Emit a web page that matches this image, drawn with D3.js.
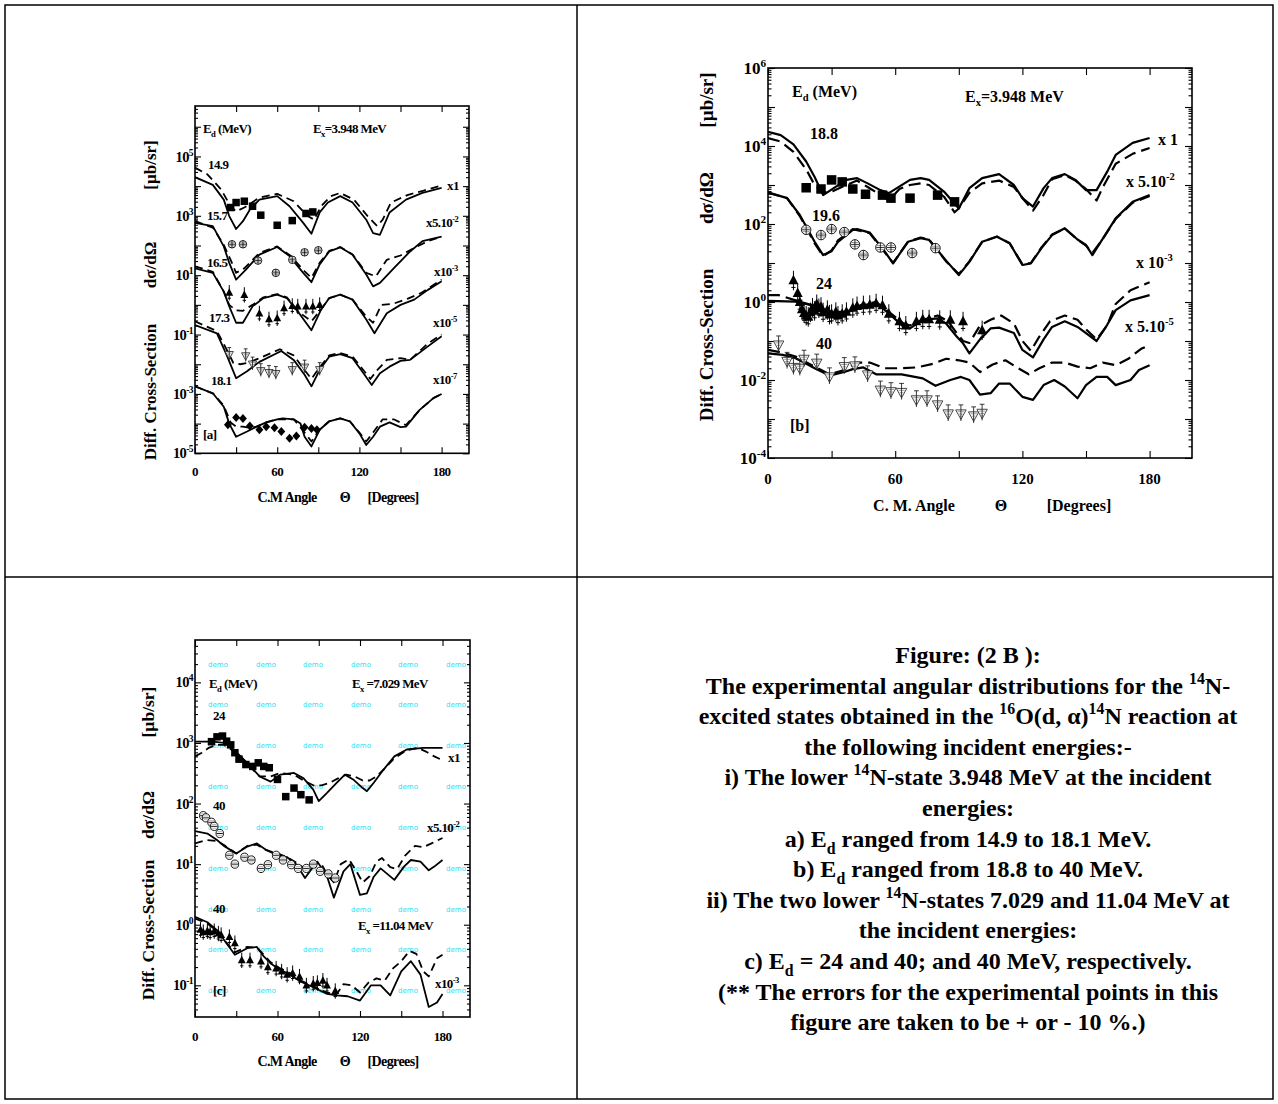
<!DOCTYPE html>
<html>
<head>
<meta charset="utf-8">
<script src="https://cdn.jsdelivr.net/npm/d3@7"></script>
<style>
  body { margin: 0; background: #fff; }
  svg text { font-family: "Liberation Serif", "Times New Roman", serif; font-weight: bold; fill: #000; }
</style>
</head>
<body>
<svg id="fig" width="1278" height="1104"></svg>
<script>
// ---- axis ticks ----
const xTicks = [0, 30, 60, 90, 120, 150, 180];
const xTickLabels = [0, 60, 120, 180];

// ---- panel [a] : Ex = 3.948 MeV, Ed 14.9 .. 18.1 (plotted values, already scaled) ----
const a149Solid = [[0,2.0e4],[13,1.1e4],[21,3.5e3],[25,9.8e2],[30,3.6e2],[35,6.6e2],[40,1.6e3],[47,3.5e3],[60,4.6e3],[69,2.1e3],[79,5.8e2],[85,2.5e2],[91,1.3e3],[97,2.8e3],[106,4.6e3],[115,2.8e3],[125,7.4e2],[130,2.6e2],[135,2.3e2],[142,1.3e3],[154,3.5e3],[166,5.9e3],[180,8.7e3]];
const a149Dash = [[0,4.2e4],[9,2.5e4],[19,7.8e3],[26,2.1e3],[30,1.4e3],[36,1.9e3],[47,4.1e3],[60,5.5e3],[72,3.1e3],[82,1.0e3],[87,7.4e2],[92,2.1e3],[99,4.6e3],[106,5.9e3],[116,3.5e3],[126,9.8e2],[133,4.5e2],[137,7.4e2],[143,2.8e3],[155,5.0e3],[167,7.1e3],[180,1.05e4]];
const a149Pts = [[26,1.9e3],[30,2.8e3],[36,3.1e3],[42,2.1e3],[48,1.05e3],[60,4.8e2],[71,6.9e2],[81,1.2e3],[86,1.35e3]];

const a157Solid = [[0,5.8e2],[13,4.5e2],[21,93],[25,26],[30,7.1],[37,15],[47,49],[60,89],[69,44],[79,12],[85,5.8],[91,23],[98,63],[106,87],[115,49],[125,10.5],[130,4.2],[135,5.5],[145,17],[157,63],[166,1.4e2],[180,2.0e2]];
const a157Dash = [[0,6.6e2],[13,4.0e2],[21,1.05e2],[26,33],[30,12],[36,17],[47,56],[60,93],[70,44],[79,15],[85,8.1],[91,26],[98,66],[106,89],[115,50],[125,12],[132,9.1],[140,33],[150,46],[160,83],[170,1.4e2],[180,2.0e2]];
const a157Pts = [[27,1.1e2],[35,1.1e2],[46,31],[59,12],[71,33],[80,59],[90,69]];

const a165Solid = [[0,17],[13,12],[21,2.8],[25,0.89],[30,0.25],[35,0.25],[42,0.89],[50,1.7],[60,2.2],[67,1.7],[76,0.52],[85,0.14],[92,0.69],[98,1.7],[106,2.2],[115,1.5],[125,0.32],[131,0.11],[140,0.52],[150,1.0],[160,1.5],[170,3.2],[180,6.3]];
const a165Dash = [[0,20],[13,13],[21,2.8],[25,1.0],[30,0.65],[35,0.63],[42,1.0],[50,1.8],[60,2.3],[67,1.8],[76,0.56],[85,0.28],[92,0.71],[98,1.7],[106,2.2],[115,1.5],[125,0.4],[130,0.25],[136,1.0],[145,1.1],[155,1.6],[165,2.5],[180,7.1]];
const a165Pts = [[25,2.6],[36,2.2],[47,0.52],[54,0.33],[60,0.36],[65,0.78],[71,0.93],[75,0.89],[81,0.89],[86,0.89],[91,1.0]];

const a173Solid = [[0,0.21],[16,0.11],[23,2.1e-2],[30,3.4e-3],[38,5.8e-3],[47,1.2e-2],[63,2.8e-2],[72,1.4e-2],[80,4.4e-3],[85,1.8e-3],[91,6.5e-3],[98,1.8e-2],[106,2.2e-2],[115,1.6e-2],[123,5.0e-3],[129,2.0e-3],[135,5.0e-3],[142,8.3e-3],[150,1.3e-2],[157,1.4e-2],[170,4.0e-2],[180,8.7e-2]];
const a173Dash = [[0,0.28],[16,0.13],[23,3.2e-2],[28,1.1e-2],[33,1.0e-2],[38,1.1e-2],[47,1.6e-2],[62,3.2e-2],[72,2.0e-2],[80,6.3e-3],[85,3.2e-3],[91,7.9e-3],[98,2.0e-2],[106,2.4e-2],[115,1.8e-2],[123,6.3e-3],[128,3.2e-3],[133,6.3e-3],[140,1.4e-2],[150,1.6e-2],[157,1.4e-2],[170,5.0e-2],[180,0.1]];
const a173Pts = [[25,2.1e-2],[37,1.9e-2],[42,1.0e-2],[48,6.0e-3],[54,5.2e-3],[59,4.8e-3],[71,6.5e-3],[80,7.9e-3],[91,6.5e-3]];

const a181Solid = [[0,1.8e-3],[13,1.05e-3],[21,3.7e-4],[25,1.0e-4],[30,3.6e-5],[38,5.4e-5],[45,7.9e-5],[52,1.1e-4],[60,1.4e-4],[64,1.5e-4],[72,1.4e-4],[77,1.0e-4],[80,3.6e-5],[85,1.7e-5],[91,6.2e-5],[98,1.2e-4],[106,1.5e-4],[113,1.2e-4],[120,4.7e-5],[125,1.9e-5],[130,3.6e-5],[135,7.9e-5],[142,1.1e-4],[150,7.6e-5],[154,7.9e-5],[164,2.9e-4],[174,7.2e-4],[180,1.0e-3]];
const a181Dash = [[0,1.8e-3],[13,1.05e-3],[21,4.0e-4],[26,1.1e-4],[30,7.9e-5],[35,7.9e-5],[40,7.1e-5],[45,7.9e-5],[52,1.1e-4],[60,1.4e-4],[72,1.4e-4],[80,5.0e-5],[85,2.5e-5],[91,6.3e-5],[98,1.2e-4],[106,1.5e-4],[113,1.2e-4],[120,5.0e-5],[125,2.5e-5],[130,5.0e-5],[137,1.4e-4],[145,1.4e-4],[154,8.9e-5],[164,2.9e-4],[174,7.2e-4],[180,1.0e-3]];
const a181Pts = [[24,9.1e-5],[30,1.6e-4],[35,1.5e-4],[40,8.3e-5],[47,6.2e-5],[52,7.9e-5],[58,7.2e-5],[63,5.4e-5],[69,3.2e-5],[74,3.8e-5],[80,7.6e-5],[85,6.9e-5],[89,6.2e-5]];

// ---- panel [b] : Ex = 3.948 MeV, Ed 18.8 .. 40 ----
const b188Solid = [[0,2.3e4],[6,1.9e4],[12,1.1e4],[18,4.0e3],[22,1.6e3],[26,5.5e2],[31,8.3e2],[37,1.35e3],[42,1.5e3],[47,1.1e3],[53,7.4e2],[57,6.2e2],[67,1.35e3],[72,1.5e3],[76,1.35e3],[83,6.8e2],[90,2.5e2],[95,8.3e2],[101,1.5e3],[109,1.9e3],[116,1.0e3],[120,4.6e2],[125,2.8e2],[130,8.3e2],[134,1.5e3],[140,1.9e3],[145,1.35e3],[150,7.4e2],[155,7.4e2],[160,2.2e3],[164,5.9e3],[172,1.2e4],[180,1.6e4]];
const b188Dash = [[0,1.6e4],[6,1.3e4],[12,7.1e3],[18,2.5e3],[22,1.0e3],[26,6.3e2],[31,7.1e2],[37,1.0e3],[42,1.3e3],[47,8.9e2],[53,5.6e2],[57,4.0e2],[62,7.9e2],[67,1.0e3],[72,1.1e3],[76,1.0e3],[83,5.0e2],[88,2.0e2],[90,2.5e2],[95,6.3e2],[101,1.1e3],[109,1.3e3],[116,8.9e2],[121,4.0e2],[125,2.2e2],[130,5.6e2],[134,1.4e3],[140,1.8e3],[145,1.3e3],[150,7.9e2],[155,4.0e2],[158,8.9e2],[164,3.5e3],[172,6.3e3],[180,8.9e3]];
const b188Pts = [[18,8.5e2],[25,7.9e2],[30,1.35e3],[35,1.2e3],[40,7.9e2],[46,5.8e2],[54,5.5e2],[58,4.6e2],[67,4.6e2],[80,5.5e2],[88,3.7e2]];

const b196Solid = [[0,6.5e2],[9,4.6e2],[15,1.7e2],[22,35],[26,16],[30,20],[33,35],[40,71],[42,74],[48,60],[55,20],[59,9.8],[66,35],[72,43],[76,39],[84,11.5],[90,4.9],[95,10.7],[101,35],[108,47],[114,32],[120,8.9],[124,9.8],[129,24],[134,52],[140,78],[146,40],[150,29],[153,16],[158,43],[164,1.4e2],[172,3.7e2],[180,5.5e2]];
const b196Dash = [[0,6.3e2],[9,4.6e2],[15,1.6e2],[22,32],[26,15],[30,21],[33,38],[40,74],[48,58],[55,19],[59,10],[66,35],[72,45],[76,40],[84,11],[90,5.2],[95,11],[101,35],[108,48],[114,32],[120,9.3],[124,10],[129,25],[134,54],[140,76],[146,40],[150,28],[153,18],[158,42],[164,1.35e2],[172,3.5e2],[180,5.2e2]];
const b196Pts = [[18,71],[25,52],[30,74],[36,62],[41,30],[45,16],[53,25],[58,25],[68,18],[79,24]];

const b24Solid = [[0,1.07],[13,1.02],[22,0.79],[29,0.51],[37,0.52],[45,0.83],[51,0.93],[57,0.51],[64,0.23],[67,0.21],[73,0.35],[80,0.38],[84,0.28],[89,0.13],[92,8.7e-2],[95,4.8e-2],[100,0.11],[105,0.21],[109,0.22],[116,0.16],[120,5.9e-2],[125,3.8e-2],[130,0.11],[134,0.23],[140,0.32],[146,0.23],[150,0.16],[155,0.1],[160,0.26],[164,0.62],[171,1.1],[180,1.5]];
const b24Dash = [[0,1.5],[5,1.5],[13,1.1],[22,0.79],[29,0.56],[37,0.56],[45,0.89],[51,1.0],[57,0.56],[64,0.28],[67,0.25],[73,0.35],[80,0.45],[85,0.32],[89,0.16],[92,0.1],[95,8.9e-2],[100,0.25],[105,0.35],[110,0.45],[116,0.28],[120,0.1],[124,5.6e-2],[128,0.13],[133,0.32],[140,0.45],[146,0.35],[150,0.2],[155,0.11],[160,0.25],[164,0.89],[171,2.0],[180,3.2]];
const b24Pts = [[12,3.6],[14,1.7],[15,1.0],[16,0.65],[17,0.52],[18,0.45],[19,0.42],[20,0.55],[21,0.72],[22,0.6],[23,0.89],[24,0.7],[25,0.76],[26,0.55],[28,0.63],[29,0.48],[30,0.5],[32,0.56],[33,0.45],[35,0.5],[37,0.56],[40,0.71],[42,0.79],[45,0.83],[48,0.85],[51,0.93],[54,0.83],[57,0.5],[62,0.32],[65,0.25],[70,0.32],[73,0.36],[76,0.36],[81,0.35],[86,0.35],[92,0.32],[101,0.19]];

const b40Solid = [[0,4.8e-2],[7,4.4e-2],[13,3.6e-2],[17,2.8e-2],[22,2.0e-2],[29,1.3e-2],[36,1.6e-2],[40,1.9e-2],[45,2.1e-2],[51,1.4e-2],[57,1.4e-2],[63,1.4e-2],[73,1.1e-2],[79,7.1e-3],[86,1.0e-2],[91,1.2e-2],[95,1.0e-2],[100,4.2e-3],[105,4.6e-3],[109,8.1e-3],[114,8.1e-3],[120,3.7e-3],[125,3.1e-3],[130,7.4e-3],[135,1.0e-2],[140,6.8e-3],[146,3.4e-3],[150,7.4e-3],[155,1.2e-2],[160,1.2e-2],[164,7.4e-3],[171,1.0e-2],[175,1.8e-2],[180,2.4e-2]];
const b40Dash = [[0,5.9e-2],[7,5.0e-2],[13,4.0e-2],[20,2.5e-2],[29,1.4e-2],[36,1.8e-2],[42,2.8e-2],[48,2.8e-2],[55,2.0e-2],[62,2.0e-2],[70,2.1e-2],[78,2.6e-2],[84,3.5e-2],[90,3.2e-2],[95,2.8e-2],[100,1.6e-2],[106,2.5e-2],[112,3.2e-2],[118,2.0e-2],[123,1.4e-2],[128,2.0e-2],[134,2.8e-2],[140,2.8e-2],[146,2.2e-2],[152,2.0e-2],[158,2.8e-2],[164,2.4e-2],[170,3.5e-2],[176,6.3e-2],[180,7.9e-2]];
const b40Pts = [[5,7.9e-2],[9,3.0e-2],[12,2.1e-2],[15,2.0e-2],[17,3.4e-2],[23,2.7e-2],[29,1.2e-2],[36,2.2e-2],[41,2.3e-2],[47,1.35e-2],[53,5.5e-3],[58,5.0e-3],[63,4.8e-3],[70,3.1e-3],[75,3.1e-3],[80,2.3e-3],[85,1.35e-3],[91,1.35e-3],[97,1.2e-3],[101,1.4e-3]];

// ---- panel [c] : Ex = 7.029 MeV (Ed 24, 40) and 11.04 MeV (Ed 40) ----
const c24Solid = [[0,1.05e3],[13,1.05e3],[21,1.0e3],[28,7.8e2],[38,4.7e2],[47,2.8e2],[55,2.3e2],[62,3.0e2],[72,3.2e2],[79,2.6e2],[86,1.7e2],[90,1.1e2],[96,1.5e2],[103,2.2e2],[109,3.0e2],[115,2.5e2],[122,1.8e2],[125,1.6e2],[130,2.2e2],[137,3.6e2],[145,6.0e2],[154,7.8e2],[166,8.3e2],[180,8.3e2]];
const c24Dash = [[0,6.0e2],[5,6.9e2],[10,8.3e2],[16,9.3e2],[21,9.3e2],[28,7.4e2],[38,4.5e2],[47,2.8e2],[55,2.8e2],[62,3.2e2],[72,3.0e2],[79,2.4e2],[86,2.0e2],[92,2.0e2],[98,2.2e2],[104,2.6e2],[110,3.0e2],[116,2.8e2],[122,2.4e2],[127,2.4e2],[132,2.8e2],[138,3.8e2],[145,5.6e2],[154,7.6e2],[162,8.3e2],[168,7.2e2],[174,6.0e2],[180,5.2e2]];
const c24Pts = [[12,1.05e3],[16,1.26e3],[20,1.3e3],[23,1.07e3],[26,9.3e2],[29,6.9e2],[32,5.4e2],[37,4.4e2],[42,4.1e2],[46,4.7e2],[50,4.1e2],[54,3.9e2],[60,2.5e2],[66,1.3e2],[72,1.8e2],[77,1.4e2],[83,1.15e2]];

const c40Solid = [[0,35],[9,32],[16,25],[21,20],[30,15],[38,19.5],[45,22],[52,17],[60,14],[67,13],[74,9.8],[80,5.9],[86,9.1],[89,11],[96,6.3],[101,2.8],[108,7.6],[113,10],[120,3.1],[125,3.3],[130,6.2],[135,8.5],[145,5.5],[152,9.1],[157,11.7],[164,11],[170,7.9],[174,9.1],[180,11.7]];
const c40Dash = [[0,22],[8,25],[16,24],[22,20],[30,15],[38,20],[45,21],[52,17],[60,15],[67,13],[74,10.5],[80,8.3],[86,10.5],[92,10],[97,6.3],[101,5.0],[106,10],[112,12],[117,7.9],[122,5.0],[127,6.3],[132,11],[136,12.6],[142,8.9],[147,8.3],[153,14],[160,20],[166,19],[172,22],[180,27]];
const c40Pts = [[6,63],[8,58],[12,49],[14,42],[18,32],[25,14],[29,10],[36,13],[41,11.7],[48,8.5],[53,9.8],[59,14],[64,11.7],[70,9.8],[75,8.5],[81,8.5],[86,10],[91,7.6],[97,6.9],[102,5.9]];

const c1104Solid = [[0,1.35],[9,1.1],[16,0.81],[23,0.49],[29,0.32],[38,0.41],[45,0.43],[50,0.3],[55,0.23],[62,0.18],[69,0.15],[77,0.115],[86,9.3e-2],[96,7.2e-2],[103,6.8e-2],[111,6.6e-2],[120,5.6e-2],[128,0.1],[135,0.1],[142,6.8e-2],[150,0.17],[157,0.25],[164,0.15],[170,4.4e-2],[176,5.2e-2],[180,7.2e-2]];
const c1104Dash = [[0,1.26],[9,1.05],[16,0.79],[23,0.5],[29,0.35],[38,0.43],[45,0.42],[50,0.32],[55,0.24],[62,0.19],[69,0.16],[77,0.12],[86,9.5e-2],[96,7.6e-2],[103,7.1e-2],[108,0.105],[114,0.1],[120,7.6e-2],[126,0.11],[132,0.13],[138,0.12],[144,0.19],[150,0.25],[156,0.37],[161,0.33],[166,0.17],[170,0.14],[176,0.28],[180,0.32]];
const c1104Pts = [[4,0.83],[6,0.76],[9,0.79],[11,0.76],[14,0.79],[17,0.72],[19,0.68],[25,0.63],[29,0.5],[34,0.26],[40,0.26],[48,0.25],[53,0.2],[59,0.19],[63,0.17],[67,0.15],[71,0.16],[76,0.14],[81,0.1],[86,0.107],[89,0.11],[93,0.12],[96,0.1],[102,0.081]];

// ---- caption ----
const captionLines = [
  'Figure: (2 B ):',
  'The experimental angular distributions for the ^{14}N-',
  'excited states obtained in the ^{16}O(d, α)^{14}N reaction at',
  'the following incident energies:-',
  'i) The lower ^{14}N-state 3.948 MeV at the incident',
  'energies:',
  'a) E_{d} ranged from 14.9 to 18.1 MeV.',
  'b) E_{d} ranged from 18.8 to 40 MeV.',
  'ii) The two lower ^{14}N-states 7.029 and 11.04 MeV at',
  'the incident energies:',
  'c) E_{d} = 24 and 40; and 40 MeV, respectively.',
  '(** The errors for the experimental points in this',
  'figure are taken to be + or - 10 %.)'
];

const svg = d3.select('#fig');

// split "x5.10^{-2}" style strings into normal / sup / sub runs
function runs(str) {
  return str.split(/(\^\{[^}]*\}|_\{[^}]*\})/).filter(s => s.length).map(s => {
    if (s.startsWith('^{')) return [s.slice(2, -1), 'sup'];
    if (s.startsWith('_{')) return [s.slice(2, -1), 'sub'];
    return [s, 'n'];
  });
}

function label(g, x, y, str, fs, opt) {
  opt = opt || {};
  const t = g.append('text').attr('x', x).attr('y', y).attr('font-size', fs)
    .attr('text-anchor', opt.anchor || 'start');
  if (opt.ls) t.attr('letter-spacing', opt.ls);
  if (opt.rotate) t.attr('transform', `rotate(-90,${x},${y})`);
  runs(str).forEach(([s, k]) => {
    const ts = t.append('tspan').text(s);
    if (k === 'sup') ts.attr('font-size', fs * 0.66).attr('baseline-shift', fs * 0.42);
    if (k === 'sub') ts.attr('font-size', fs * 0.66).attr('baseline-shift', -fs * 0.28);
  });
  return t;
}

function marker(g, type, cx, cy, s) {
  const m = g.append('g').attr('transform', `translate(${cx},${cy})`);
  const h = s / 2;
  if (type === 'square') {
    m.append('rect').attr('x', -h).attr('y', -h).attr('width', s).attr('height', s).attr('fill', '#000');
  } else if (type === 'diamond') {
    m.append('path').attr('d', `M0,${-h * 1.2}L${h * 1.05},0L0,${h * 1.2}L${-h * 1.05},0Z`).attr('fill', '#000');
  } else if (type === 'tri') {
    m.append('line').attr('y1', -s).attr('y2', s * 1.05).attr('stroke', '#000').attr('stroke-width', 1);
    m.append('line').attr('x1', -h * 0.45).attr('x2', h * 0.45).attr('y1', s * 0.75).attr('y2', s * 0.75).attr('stroke', '#000').attr('stroke-width', 1);
    m.append('path').attr('d', `M0,${-h * 1.15}L${h * 1.05},${h * 0.85}L${-h * 1.05},${h * 0.85}Z`).attr('fill', '#000');
  } else if (type === 'itri') {
    m.append('path').attr('d', `M0,${h * 1.15}L${h * 1.1},${-h * 0.85}L${-h * 1.1},${-h * 0.85}Z`)
      .attr('fill', '#fff').attr('stroke', '#333').attr('stroke-width', 0.9);
    [-0.45, 0.05, 0.5].forEach(f => {
      const yy = f * h, hw = 1.1 * h * (1.15 * h - yy) / (2 * h) - 1;
      if (hw > 0.5) m.append('line').attr('x1', -hw).attr('x2', hw).attr('y1', yy).attr('y2', yy).attr('stroke', '#888').attr('stroke-width', 0.8);
    });
    m.append('line').attr('y1', -s * 0.95).attr('y2', s * 0.75).attr('stroke', '#222').attr('stroke-width', 0.9);
    m.append('line').attr('x1', -h * 0.5).attr('x2', h * 0.5).attr('y1', -s * 0.95).attr('y2', -s * 0.95).attr('stroke', '#222').attr('stroke-width', 0.9);
  } else if (type === 'cplus') {
    m.append('circle').attr('r', h).attr('fill', '#fff').attr('stroke', '#000').attr('stroke-width', 0.9);
    [-0.4, 0, 0.4].forEach(f => {
      const yy = f * h, hw = Math.sqrt(h * h - yy * yy) - 0.6;
      m.append('line').attr('x1', -hw).attr('x2', hw).attr('y1', yy).attr('y2', yy).attr('stroke', f ? '#777' : '#000').attr('stroke-width', 0.8);
    });
    m.append('line').attr('y1', -h).attr('y2', h).attr('stroke', '#000').attr('stroke-width', 0.8);
  } else if (type === 'cminus') {
    m.append('ellipse').attr('rx', h).attr('ry', h * 1.1).attr('fill', '#fff').attr('stroke', '#000').attr('stroke-width', 0.9);
    m.append('line').attr('x1', -h + 0.6).attr('x2', h - 0.6).attr('stroke', '#000').attr('stroke-width', 0.9);
    [-0.5, 0.5].forEach(f => {
      const yy = f * h, hw = Math.sqrt(h * h - yy * yy) - 0.8;
      m.append('line').attr('x1', -hw).attr('x2', hw).attr('y1', yy).attr('y2', yy).attr('stroke', '#999').attr('stroke-width', 0.7);
    });
  }
}

function panel(cfg) {
  const g = svg.append('g');
  const x = d3.scaleLinear().domain([0, 200]).range([cfg.left, cfg.right]);
  const y = d3.scaleLog().domain(cfg.yDomain).range([cfg.bottom, cfg.top]);
  const clipId = 'clip-' + cfg.id;
  svg.append('clipPath').attr('id', clipId).append('rect')
    .attr('x', cfg.left).attr('y', cfg.top)
    .attr('width', cfg.right - cfg.left).attr('height', cfg.bottom - cfg.top);

  const e0 = Math.ceil(Math.log10(cfg.yDomain[0]) - 1e-9);
  const e1 = Math.floor(Math.log10(cfg.yDomain[1]) + 1e-9);
  const majors = d3.range(e0, e1 + 1).map(e => Math.pow(10, e));
  const minors = [];
  for (let e = e0 - 1; e <= e1; e++) {
    for (let k = 2; k <= 9; k++) {
      const v = k * Math.pow(10, e);
      if (v > cfg.yDomain[0] && v < cfg.yDomain[1]) minors.push(v);
    }
  }

  // axes, ticks pointing inward on all four sides
  g.append('g').attr('transform', `translate(0,${cfg.bottom})`)
    .call(d3.axisBottom(x).tickValues(xTicks).tickSize(-cfg.tick).tickSizeOuter(0).tickFormat(''));
  g.append('g').attr('transform', `translate(0,${cfg.top})`)
    .call(d3.axisTop(x).tickValues(xTicks).tickSize(-cfg.tick).tickSizeOuter(0).tickFormat(''));
  [[d3.axisLeft, cfg.left], [d3.axisRight, cfg.right]].forEach(([ax, pos]) => {
    g.append('g').attr('transform', `translate(${pos},0)`)
      .call(ax(y).tickValues(majors).tickSize(-cfg.tick).tickSizeOuter(0).tickFormat(''));
    g.append('g').attr('transform', `translate(${pos},0)`)
      .call(ax(y).tickValues(minors).tickSize(-cfg.tick * 0.5).tickSizeOuter(0).tickFormat(''));
  });
  g.selectAll('.domain').remove();
  g.selectAll('.tick line').attr('stroke', '#000').attr('stroke-width', 1.1);
  g.append('rect').attr('x', cfg.left).attr('y', cfg.top)
    .attr('width', cfg.right - cfg.left).attr('height', cfg.bottom - cfg.top)
    .attr('fill', 'none').attr('stroke', '#000').attr('stroke-width', 1.6);

  // tick labels
  xTickLabels.forEach(v => label(g, x(v), cfg.xLabelY, String(v), cfg.fs, { anchor: 'middle', ls: cfg.ls }));
  cfg.yLabels.forEach(e => label(g, cfg.left - 2, y(Math.pow(10, e)) + cfg.yfs * 0.35, '10^{' + e + '}', cfg.yfs, { anchor: 'end', ls: cfg.ls }));

  // axis titles
  cfg.xTitle.forEach(([s, cx]) => label(g, cx, cfg.xTitleY, s, cfg.titleFs, { anchor: 'middle', ls: cfg.ls }));
  cfg.yTitle.forEach(([s, cy]) => label(g, cfg.yTitleX, cy, s, cfg.yTitleFs, { anchor: 'middle', rotate: true }));

  // curves
  const line = d3.line().x(d => x(d[0])).y(d => y(d[1]));
  cfg.series.filter(s => s.kind !== 'pts').forEach(s => {
    g.append('path').datum(s.data).attr('d', line)
      .attr('fill', 'none').attr('stroke', '#000').attr('stroke-width', cfg.lw)
      .attr('stroke-linejoin', 'round')
      .attr('stroke-dasharray', s.kind === 'dash' ? cfg.dash : null)
      .attr('clip-path', `url(#${clipId})`);
  });
  // experimental points
  cfg.series.filter(s => s.kind === 'pts').forEach(s => {
    s.data.forEach(d => marker(g, s.marker, x(d[0]), y(d[1]), cfg.msize));
  });

  // annotations
  cfg.notes.forEach(([s, nx, ny]) => label(g, nx, ny, s, cfg.noteFs, { ls: cfg.ls }));
  return g;
}

// table frame
svg.append('rect').attr('x', 5).attr('y', 5).attr('width', 1268).attr('height', 1094)
  .attr('fill', 'none').attr('stroke', '#000').attr('stroke-width', 1.5);
svg.append('line').attr('x1', 577).attr('x2', 577).attr('y1', 5).attr('y2', 1099).attr('stroke', '#000').attr('stroke-width', 1.5);
svg.append('line').attr('x1', 5).attr('x2', 1273).attr('y1', 577).attr('y2', 577).attr('stroke', '#000').attr('stroke-width', 1.5);

// panel c watermark (drawn first, under the data)
const demoCols = [218, 266, 313, 361, 408, 456];
const demoRows = [665, 705, 746, 787, 828, 869, 910, 950, 991];
demoRows.forEach(ry => demoCols.forEach(rx => {
  svg.append('text').attr('x', rx).attr('y', ry + 2).attr('text-anchor', 'middle')
    .attr('font-size', 7).style('font-family', 'DejaVu Sans, sans-serif').style('font-weight', 'normal')
    .style('fill', '#22e4f4').text('demo');
}));

panel({
  id: 'a', left: 195, right: 469, top: 106, bottom: 453.3, yDomain: [1e-5, 5e6],
  yLabels: [5, 3, 1, -1, -3, -5], fs: 13, yfs: 14.5, titleFs: 14, yTitleFs: 17, noteFs: 13, ls: -0.6,
  tick: 6, lw: 1.8, dash: '8,5', msize: 7.5, xLabelY: 476,
  xTitleY: 502, xTitle: [['C.M Angle', 287], ['Θ', 345], ['[Degrees]', 393]],
  yTitleX: 156, yTitle: [['[µb/sr]', 165], ['dσ/dΩ', 265], ['Diff. Cross-Section', 392]],
  series: [
    { data: a149Solid, kind: 'solid' }, { data: a149Dash, kind: 'dash' }, { data: a149Pts, kind: 'pts', marker: 'square' },
    { data: a157Solid, kind: 'solid' }, { data: a157Dash, kind: 'dash' }, { data: a157Pts, kind: 'pts', marker: 'cplus' },
    { data: a165Solid, kind: 'solid' }, { data: a165Dash, kind: 'dash' }, { data: a165Pts, kind: 'pts', marker: 'tri' },
    { data: a173Solid, kind: 'solid' }, { data: a173Dash, kind: 'dash' }, { data: a173Pts, kind: 'pts', marker: 'itri' },
    { data: a181Solid, kind: 'solid' }, { data: a181Dash, kind: 'dash' }, { data: a181Pts, kind: 'pts', marker: 'diamond' }
  ],
  notes: [
    ['E_{d} (MeV)', 203, 133], ['E_{x}=3.948 MeV', 313, 133],
    ['14.9', 208, 169], ['15.7', 207, 220], ['16.5', 207, 267], ['17.3', 209, 322], ['18.1', 211, 385], ['[a]', 203, 439],
    ['x1', 447, 190], ['x5.10^{-2}', 426, 227], ['x10^{-3}', 434, 276], ['x10^{-5}', 433, 327], ['x10^{-7}', 433, 384]
  ]
});

panel({
  id: 'b', left: 768, right: 1192, top: 68, bottom: 458, yDomain: [1e-4, 1e6],
  yLabels: [6, 4, 2, 0, -2, -4], fs: 15, yfs: 17, titleFs: 16, yTitleFs: 19, noteFs: 16, ls: 0,
  tick: 7, lw: 2.2, dash: '12,6', msize: 9.5, xLabelY: 484,
  xTitleY: 511, xTitle: [['C. M. Angle', 914], ['Θ', 1001], ['[Degrees]', 1079]],
  yTitleX: 713, yTitle: [['[µb/sr]', 100], ['dσ/dΩ', 198], ['Diff. Cross-Section', 345]],
  series: [
    { data: b188Solid, kind: 'solid' }, { data: b188Dash, kind: 'dash' }, { data: b188Pts, kind: 'pts', marker: 'square' },
    { data: b196Solid, kind: 'solid' }, { data: b196Dash, kind: 'dash' }, { data: b196Pts, kind: 'pts', marker: 'cplus' },
    { data: b24Solid, kind: 'solid' }, { data: b24Dash, kind: 'dash' }, { data: b24Pts, kind: 'pts', marker: 'tri' },
    { data: b40Solid, kind: 'solid' }, { data: b40Dash, kind: 'dash' }, { data: b40Pts, kind: 'pts', marker: 'itri' }
  ],
  notes: [
    ['E_{d} (MeV)', 792, 97], ['E_{x}=3.948 MeV', 965, 102],
    ['18.8', 810, 139], ['19.6', 812, 221], ['24', 816, 289], ['40', 816, 349], ['[b]', 790, 431],
    ['x 1', 1158, 145], ['x 5.10^{-2}', 1126, 187], ['x 10^{-3}', 1136, 268], ['x 5.10^{-5}', 1125, 332]
  ]
});

panel({
  id: 'c', left: 195, right: 470, top: 640, bottom: 1017, yDomain: [3e-2, 5e4],
  yLabels: [4, 3, 2, 1, 0, -1], fs: 13, yfs: 14.5, titleFs: 14, yTitleFs: 17.5, noteFs: 13, ls: -0.6,
  tick: 6, lw: 1.8, dash: '8,5', msize: 7.5, xLabelY: 1041,
  xTitleY: 1066, xTitle: [['C.M Angle', 287], ['Θ', 345], ['[Degrees]', 393]],
  yTitleX: 154, yTitle: [['[µb/sr]', 712], ['dσ/dΩ', 815], ['Diff. Cross-Section', 930]],
  series: [
    { data: c24Solid, kind: 'solid' }, { data: c24Dash, kind: 'dash' }, { data: c24Pts, kind: 'pts', marker: 'square' },
    { data: c40Solid, kind: 'solid' }, { data: c40Dash, kind: 'dash' }, { data: c40Pts, kind: 'pts', marker: 'cminus' },
    { data: c1104Solid, kind: 'solid' }, { data: c1104Dash, kind: 'dash' }, { data: c1104Pts, kind: 'pts', marker: 'tri' }
  ],
  notes: [
    ['E_{d} (MeV)', 209, 688], ['E_{x} =7.029 MeV', 352, 688],
    ['24', 213, 720], ['40', 213, 810], ['40', 213, 913], ['E_{x} =11.04 MeV', 358, 930], ['[c]', 213, 995],
    ['x1', 448, 762], ['x5.10^{-2}', 427, 832], ['x10^{-3}', 435, 988]
  ]
});

// caption cell
captionLines.forEach((s, i) => label(svg, 968, 663 + i * 30.6, s, 24, { anchor: 'middle' }));
</script>
</body>
</html>
